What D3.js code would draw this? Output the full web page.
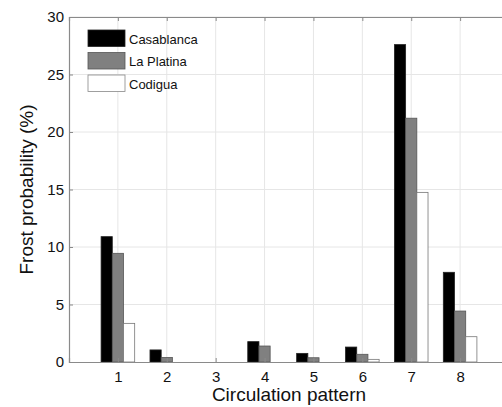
<!DOCTYPE html>
<html><head><meta charset="utf-8">
<script src="https://cdn.jsdelivr.net/npm/d3@7"></script>
<style>body{margin:0;background:#fff;} svg{display:block;}</style>
</head><body>
<svg id="c" width="502" height="407"></svg>
<script>
const patterns = [1,2,3,4,5,6,7,8];
const seriesNames = ["Casablanca","La Platina","Codigua"];
const casablanca = [10.9, 1.05, 0, 1.77, 0.75, 1.3, 27.6, 7.8];
const laPlatina  = [9.45, 0.4, 0, 1.39, 0.37, 0.67, 21.2, 4.43];
const codigua    = [3.36, 0, 0, 0, 0, 0.23, 14.75, 2.2];
const yTicks = [0,5,10,15,20,25,30];
const xTicks = [1,2,3,4,5,6,7,8];

const fills = ["#000000","#808080","#ffffff"];
const strokes = ["#222","#555","#777"];
const series = [casablanca, laPlatina, codigua];

const svg = d3.select("#c");
const L=69, T=17, B=362, R=509;
const x = d3.scaleLinear().domain([0,9]).range([L,R]);
const y = d3.scaleLinear().domain([0,30]).range([B,T]);
const barW = 0.229; // in x units
const FONT = "Liberation Sans, Arial, sans-serif";

// grid
svg.append("g").selectAll("line").data(yTicks.slice(1)).join("line")
  .attr("x1",L).attr("x2",R).attr("y1",d=>y(d)).attr("y2",d=>y(d))
  .attr("stroke","#e6e6e6").attr("stroke-width",1);
svg.append("g").selectAll("line").data(xTicks).join("line")
  .attr("y1",T).attr("y2",B).attr("x1",d=>x(d)).attr("x2",d=>x(d))
  .attr("stroke","#e6e6e6").attr("stroke-width",1);

// bars
series.forEach((s,i)=>{
  svg.append("g").selectAll("rect").data(s.map((v,j)=>({p:patterns[j],v})).filter(d=>d.v>0)).join("rect")
    .attr("x",d=>x(d.p+(i-1.5)*barW))
    .attr("width",x(barW)-x(0))
    .attr("y",d=>y(d.v))
    .attr("height",d=>y(0)-y(d.v))
    .attr("fill",fills[i]).attr("stroke",strokes[i]).attr("stroke-width",0.8);
});

// axes
const axCol="#8a8a8a";
const xAxis = svg.append("g").attr("transform",`translate(0,${B})`)
  .call(d3.axisBottom(x).tickValues(xTicks).tickSize(-4).tickPadding(9).tickFormat(d3.format("d")));
const yAxis = svg.append("g").attr("transform",`translate(${L},0)`)
  .call(d3.axisLeft(y).tickValues(yTicks).tickSize(-4).tickPadding(5));
const xTop = svg.append("g").attr("transform",`translate(0,${T})`)
  .call(d3.axisTop(x).tickValues(xTicks).tickSize(-4).tickFormat(""));
[xAxis,yAxis,xTop].forEach(g=>{
  g.select(".domain").attr("stroke",axCol).attr("stroke-width",1.2);
  g.selectAll(".tick line").attr("stroke",axCol);
  g.selectAll("text").attr("fill","#111").style("font-family",FONT).style("font-size","15px");
});

// titles
svg.append("text").attr("x",(L+R)/2).attr("y",401).attr("text-anchor","middle")
  .style("font-family",FONT).style("font-size","19px").attr("fill","#111")
  .text("Circulation pattern");
svg.append("text").attr("transform",`translate(33,${(T+B)/2}) rotate(-90)`).attr("text-anchor","middle")
  .style("font-family",FONT).style("font-size","19px").attr("fill","#111")
  .text("Frost probability (%)");

// legend
const lg = svg.append("g");
seriesNames.forEach((n,i)=>{
  const yy = 30 + i*22.5;
  lg.append("rect").attr("x",88).attr("y",yy).attr("width",37).attr("height",16.5)
    .attr("fill",fills[i]).attr("stroke",i===2?"#888":strokes[i]).attr("stroke-width",0.8);
  lg.append("text").attr("x",129).attr("y",yy+13.5)
    .style("font-family",FONT).style("font-size","13px").attr("fill","#111")
    .text(n);
});
</script>
</body></html>
